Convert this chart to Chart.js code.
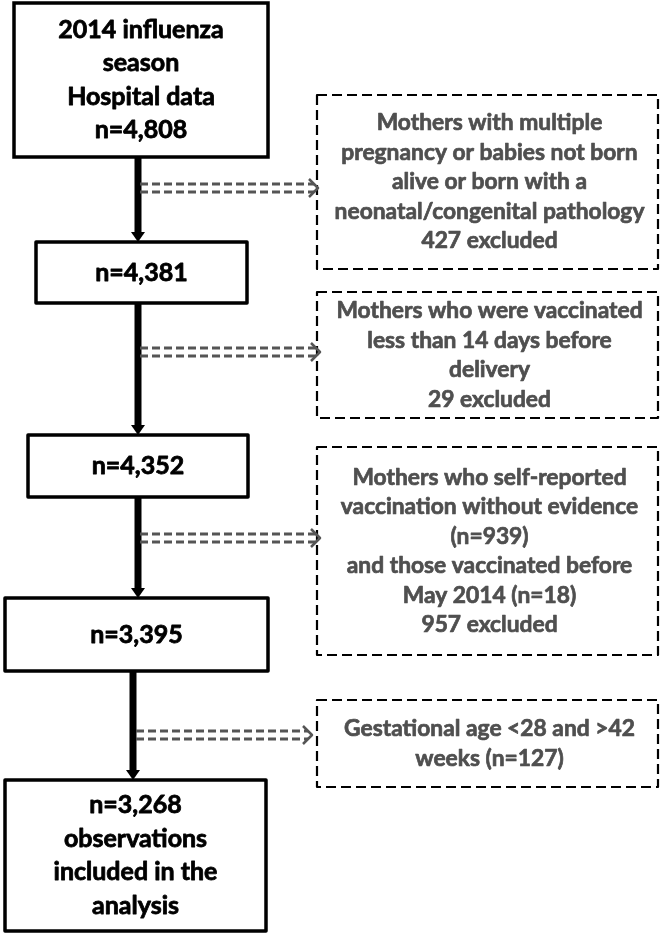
<!DOCTYPE html>
<html>
<head>
<meta charset="utf-8">
<script src="https://cdn.jsdelivr.net/npm/chart.js@4.4.1/dist/chart.umd.min.js"></script>
<style>
  html, body { margin: 0; padding: 0; background: #fff; }
  #wrap { width: 661px; height: 933px; }
</style>
</head>
<body>
<div id="wrap"><canvas id="flow" width="661" height="933"></canvas></div>
<script>
// --- Data ---
const mainTitle = ['2014 influenza', 'season', 'Hospital data'];
const mainCounts = [4808, 4381, 4352, 3395, 3268];
const finalText = ['observations', 'included in the', 'analysis'];

const exclusionText = [
  ['Mothers with multiple', 'pregnancy or babies not born', 'alive or born with a', 'neonatal/congenital pathology'],
  ['Mothers who were vaccinated', 'less than 14 days before', 'delivery'],
  ['Mothers who self-reported', 'vaccination without evidence', '(n=939)', 'and those vaccinated before', 'May 2014 (n=18)'],
  ['Gestational age <28 and >42', 'weeks (n=127)'],
];
const excludedCounts = [427, 29, 957, null];

// --- Layout (page units, y down) ---
const mainBoxes = [
  { x0: 14, y0: 3, x1: 268, y1: 157 },
  { x0: 36, y0: 242, x1: 247, y1: 303 },
  { x0: 28, y0: 435, x1: 248, y1: 497 },
  { x0: 5, y0: 598, x1: 268, y1: 671 },
  { x0: 5, y0: 780, x1: 266, y1: 931 },
];
const connectorX = [138, 138, 138, 133];
const sideBoxes = [
  { x0: 317, y0: 95, x1: 658, y1: 269 },
  { x0: 317, y0: 292, x1: 658, y1: 418 },
  { x0: 317, y0: 447, x1: 658, y1: 655 },
  { x0: 317, y0: 700, x1: 658, y1: 787 },
];
const sideArrows = [
  { x0: 140, x1: 318, y: 188 },
  { x0: 140, x1: 320, y: 352 },
  { x0: 140, x1: 320, y: 538 },
  { x0: 136, x1: 312, y: 735 },
];

const fmtN = n => 'n=' + n.toLocaleString('en-US');

function mainLines(i) {
  if (i === 0) return [...mainTitle, fmtN(mainCounts[0])];
  if (i === mainCounts.length - 1) return [fmtN(mainCounts[i]), ...finalText];
  return [fmtN(mainCounts[i])];
}
function sideLines(i) {
  const lines = [...exclusionText[i]];
  if (excludedCounts[i] !== null) lines.push(excludedCounts[i] + ' excluded');
  return lines;
}

// heavy text: fill plus a thin stroke so Lato reads closer to Calibri bold
function heavyText(ctx, t, x, y, color, w) {
  ctx.fillStyle = color;
  ctx.strokeStyle = color;
  ctx.lineWidth = w;
  ctx.setLineDash([]);
  ctx.lineJoin = 'round';
  ctx.strokeText(t, x, y);
  ctx.fillText(t, x, y);
}

// --- Drawing plugin ---
const flowPlugin = {
  id: 'flow',
  afterDraw(chart) {
    const { ctx, scales } = chart;
    const X = v => scales.x.getPixelForValue(v);
    const Y = v => scales.y.getPixelForValue(v);

    ctx.save();

    // main solid boxes
    mainBoxes.forEach((b, i) => {
      ctx.setLineDash([]);
      ctx.lineWidth = 3.5;
      ctx.strokeStyle = '#000';
      ctx.strokeRect(X(b.x0), Y(b.y0), X(b.x1) - X(b.x0), Y(b.y1) - Y(b.y0));
      const lines = mainLines(i);
      const lh = 33.5;
      const cy = (Y(b.y0) + Y(b.y1)) / 2;
      ctx.font = 'bold 25px Lato, sans-serif';
      ctx.textAlign = 'center';
      ctx.textBaseline = 'middle';
      lines.forEach((t, k) => {
        heavyText(ctx, t, (X(b.x0) + X(b.x1)) / 2, cy + (k - (lines.length - 1) / 2) * lh, '#000', 0.8);
      });
    });

    // vertical connectors
    connectorX.forEach((cx, i) => {
      const top = Y(mainBoxes[i].y1), bot = Y(mainBoxes[i + 1].y0);
      const px = X(cx);
      ctx.setLineDash([]);
      ctx.strokeStyle = '#000';
      ctx.lineWidth = 7;
      ctx.beginPath();
      ctx.moveTo(px, top);
      ctx.lineTo(px, bot - 8);
      ctx.stroke();
      ctx.fillStyle = '#000';
      ctx.beginPath();
      ctx.moveTo(px - 7, bot - 10);
      ctx.lineTo(px + 7, bot - 10);
      ctx.lineTo(px, bot);
      ctx.closePath();
      ctx.fill();
    });

    // dashed exclusion boxes
    sideBoxes.forEach((b, i) => {
      ctx.setLineDash([10, 5]);
      ctx.lineWidth = 2.2;
      ctx.strokeStyle = '#000';
      ctx.strokeRect(X(b.x0), Y(b.y0), X(b.x1) - X(b.x0), Y(b.y1) - Y(b.y0));
      const lines = sideLines(i);
      const lh = 29.5;
      const cy = (Y(b.y0) + Y(b.y1)) / 2;
      ctx.font = 'bold 22.8px Lato, sans-serif';
      ctx.textAlign = 'center';
      ctx.textBaseline = 'middle';
      lines.forEach((t, k) => {
        heavyText(ctx, t, (X(b.x0) + X(b.x1)) / 2 + 2, cy + (k - (lines.length - 1) / 2) * lh, '#4f4f4f', 0.7);
      });
    });

    // double dashed arrows
    sideArrows.forEach(a => {
      const x0 = X(a.x0), x1 = X(a.x1), cy = Y(a.y);
      ctx.strokeStyle = '#555';
      ctx.lineWidth = 3;
      ctx.setLineDash([8, 4]);
      [-4, 4].forEach(d => {
        ctx.beginPath();
        ctx.moveTo(x0, cy + d);
        ctx.lineTo(x1 - 4, cy + d);
        ctx.stroke();
      });
      ctx.setLineDash([]);
      ctx.lineWidth = 2.5;
      ctx.beginPath();
      ctx.moveTo(x1 - 9, cy - 9);
      ctx.lineTo(x1, cy);
      ctx.lineTo(x1 - 9, cy + 9);
      ctx.stroke();
    });

    ctx.restore();
  }
};

new Chart(document.getElementById('flow'), {
  type: 'scatter',
  data: {
    datasets: [{
      data: mainBoxes.map((b, i) => ({ x: connectorX[Math.min(i, connectorX.length - 1)], y: (b.y0 + b.y1) / 2 })),
      pointRadius: 0,
    }]
  },
  options: {
    responsive: false,
    animation: false,
    layout: { padding: 0 },
    plugins: { legend: { display: false }, tooltip: { enabled: false } },
    scales: {
      x: { type: 'linear', min: 0, max: 661, display: false },
      y: { type: 'linear', min: 0, max: 933, reverse: true, display: false },
    }
  },
  plugins: [flowPlugin]
});
</script>
</body>
</html>
